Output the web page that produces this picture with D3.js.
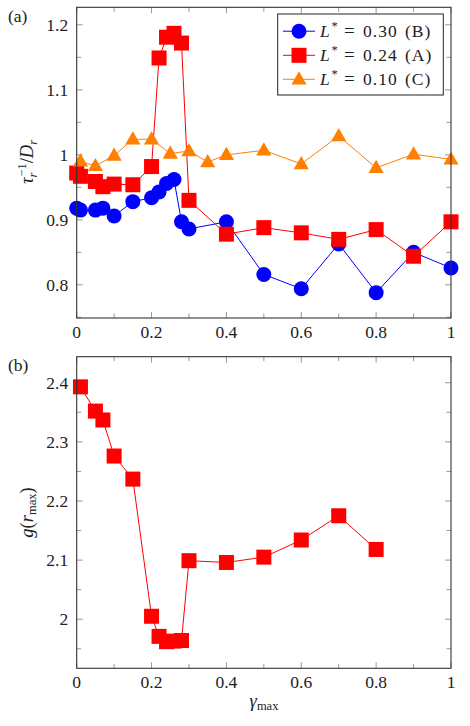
<!DOCTYPE html>
<html><head><meta charset="utf-8">
<script src="https://cdn.jsdelivr.net/npm/d3@7"></script>
<style>
body{margin:0;background:#fff}
svg{display:block}
</style>
</head><body>
<svg id="c" width="470" height="726"></svg>
<script>
// ---------- data ----------
const gammaB = [0,0.01,0.05,0.07,0.1,0.15,0.2,0.22,0.24,0.26,0.28,0.3,0.4,0.5,0.6,0.7,0.8,0.9,1.0];
const tauB   = [0.918,0.915,0.915,0.918,0.906,0.928,0.934,0.943,0.956,0.962,0.897,0.886,0.897,0.816,0.794,0.863,0.788,0.850,0.826];
const gammaA = [0,0.01,0.05,0.07,0.1,0.15,0.2,0.22,0.24,0.26,0.28,0.3,0.4,0.5,0.6,0.7,0.8,0.9,1.0];
const tauA   = [0.972,0.967,0.959,0.951,0.955,0.954,0.982,1.149,1.181,1.187,1.172,0.930,0.878,0.888,0.880,0.870,0.885,0.844,0.897];
const gammaC = [0.01,0.05,0.1,0.15,0.2,0.25,0.3,0.35,0.4,0.5,0.6,0.7,0.8,0.9,1.0];
const tauC   = [0.990,0.983,0.999,1.024,1.024,1.002,1.006,0.989,1.000,1.007,0.986,1.029,0.980,1.001,0.993];
const gammaG = [0.01,0.05,0.07,0.1,0.15,0.2,0.22,0.24,0.26,0.28,0.3,0.4,0.5,0.6,0.7,0.8];
const gMax   = [2.393,2.352,2.337,2.276,2.237,2.005,1.971,1.962,1.963,1.964,2.099,2.096,2.105,2.134,2.175,2.118];

const xMajor = [0,0.2,0.4,0.6,0.8,1];
const xMinor = [0.1,0.3,0.5,0.7,0.9];
const xLabels = ["0","0.2","0.4","0.6","0.8","1"];
const yMajorA = [0.8,0.9,1.0,1.1,1.2];
const yMinorA = [0.75,0.85,0.95,1.05,1.15];
const yLabelsA = ["0.8","0.9","1","1.1","1.2"];
const yMajorB = [2.0,2.1,2.2,2.3,2.4];
const yMinorB = [1.95,2.05,2.15,2.25,2.35];
const yLabelsB = ["2","2.1","2.2","2.3","2.4"];

const legendItems = [
  {val:"0.30", tag:"B", color:"#0000ff", shape:"circle"},
  {val:"0.24", tag:"A", color:"#ff0000", shape:"square"},
  {val:"0.10", tag:"C", color:"#ff8000", shape:"triangle"}
];

// ---------- layout ----------
const FONT = "Liberation Serif";
const FS = 17.5, FSS = 12.5;
const svg = d3.select("#c");
const L = 76.7, R = 451;
const x = d3.scaleLinear().domain([0,1]).range([L,R]);
const yTop = d3.scaleLinear().domain([0.749,1.227]).range([318,7.3]);
const yBot = d3.scaleLinear().domain([1.917,2.444]).range([668.3,356.7]);

function txt(g){ return g.append("text").attr("font-family",FONT).attr("fill","#222"); }

function marker(g, shape, color, cx, cy){
  if(shape==="circle"){
    g.append("circle").attr("cx",cx).attr("cy",cy).attr("r",7.5).attr("fill",color);
  } else if(shape==="square"){
    g.append("rect").attr("x",cx-7.5).attr("y",cy-7.5).attr("width",15).attr("height",15).attr("fill",color);
  } else {
    const s=8;
    g.append("path").attr("d",`M${cx},${cy-s} L${cx+s*0.95},${cy+s*0.65} L${cx-s*0.95},${cy+s*0.65}Z`).attr("fill",color);
  }
}

function series(yScale, xs, ys, color, shape){
  const g = svg.append("g");
  const pts = xs.map((d,i)=>[x(d), yScale(ys[i])]);
  g.append("path").attr("d", d3.line()(pts)).attr("fill","none").attr("stroke",color).attr("stroke-width",1);
  pts.forEach(p=>marker(g, shape, color, p[0], p[1]));
}

function frame(yScale, yMajor, yMinor, yLabels){
  const [yb, yt] = yScale.range();
  const g = svg.append("g");
  const tc = "#999";
  xMajor.concat(xMinor).forEach((v,i)=>{
    const len = i < xMajor.length ? 6 : 4.5;
    g.append("line").attr("x1",x(v)).attr("x2",x(v)).attr("y1",yb).attr("y2",yb-len).attr("stroke",tc);
    g.append("line").attr("x1",x(v)).attr("x2",x(v)).attr("y1",yt).attr("y2",yt+len).attr("stroke",tc);
  });
  yMajor.concat(yMinor).forEach((v,i)=>{
    const len = i < yMajor.length ? 6 : 4.5;
    g.append("line").attr("x1",L).attr("x2",L+len).attr("y1",yScale(v)).attr("y2",yScale(v)).attr("stroke",tc);
    g.append("line").attr("x1",R).attr("x2",R-len).attr("y1",yScale(v)).attr("y2",yScale(v)).attr("stroke",tc);
  });
  xMajor.forEach((v,i)=>{
    txt(g).attr("x",x(v)).attr("y",yb+20).attr("text-anchor","middle").attr("font-size",FS).text(xLabels[i]);
  });
  yMajor.forEach((v,i)=>{
    txt(g).attr("x",L-8.5).attr("y",yScale(v)+6).attr("text-anchor","end").attr("font-size",FS).text(yLabels[i]);
  });
  return g;
}

function border(yScale){
  const [yb, yt] = yScale.range();
  svg.append("rect").attr("x",L).attr("y",yt).attr("width",R-L).attr("height",yb-yt)
    .attr("fill","none").attr("stroke","#333").attr("stroke-width",1.1);
}

// ----- panel (a) -----
frame(yTop, yMajorA, yMinorA, yLabelsA);
series(yTop, gammaB, tauB, "#0000ff", "circle");
series(yTop, gammaA, tauA, "#ff0000", "square");
series(yTop, gammaC, tauC, "#ff8000", "triangle");
border(yTop);

// legend
const lg = svg.append("g");
lg.append("rect").attr("x",277.7).attr("y",14).attr("width",165.6).attr("height",81)
  .attr("fill","#fff").attr("stroke","#222").attr("stroke-width",1);
legendItems.forEach((d,i)=>{
  const cy = [31.2,55.3,79.3][i];
  const by = cy + 6;
  lg.append("line").attr("x1",283).attr("x2",315).attr("y1",cy).attr("y2",cy).attr("stroke",d.color).attr("stroke-width",1);
  marker(lg, d.shape, d.color, 299, cy);
  const t = txt(lg).attr("font-size",FS);
  t.append("tspan").attr("x",320).attr("y",by).attr("font-style","italic").text("L");
  t.append("tspan").attr("x",331.5).attr("y",by-7).attr("font-size",FSS).text("*");
  t.append("tspan").attr("x",344).attr("y",by).attr("font-size",19).text("=");
  t.append("tspan").attr("x",363).attr("y",by).attr("letter-spacing",1).text(d.val);
  t.append("tspan").attr("x",405).attr("y",by).attr("letter-spacing",1).text("(" + d.tag + ")");
});

// panel label & y label
txt(svg).attr("x",8).attr("y",22).attr("font-size",FS).text("(a)");
(function(){
  const t = txt(svg).attr("transform","translate(33,162) rotate(-90)").attr("text-anchor","middle").attr("font-size",FS+1);
  t.append("tspan").attr("font-style","italic").text("τ");
  t.append("tspan").attr("font-style","italic").attr("font-size",FSS).attr("dy",4).text("r");
  t.append("tspan").attr("font-size",FSS).attr("dx",-4).attr("dy",-11).text("−1");
  t.append("tspan").attr("dy",7).text("/");
  t.append("tspan").attr("font-style","italic").text("D");
  t.append("tspan").attr("font-style","italic").attr("font-size",FSS).attr("dy",4).text("r");
})();

// ----- panel (b) -----
frame(yBot, yMajorB, yMinorB, yLabelsB);
series(yBot, gammaG, gMax, "#ff0000", "square");
border(yBot);

txt(svg).attr("x",8).attr("y",371).attr("font-size",FS).text("(b)");
(function(){
  const t = txt(svg).attr("transform","translate(33,512.5) rotate(-90)").attr("text-anchor","middle").attr("font-size",FS+1);
  t.append("tspan").attr("font-style","italic").text("g");
  t.append("tspan").text("(");
  t.append("tspan").attr("font-style","italic").text("r");
  t.append("tspan").attr("font-size",FSS).attr("dy",3).text("max");
  t.append("tspan").attr("dy",-3).text(")");
})();
(function(){
  const t = txt(svg).attr("x",264).attr("y",707).attr("text-anchor","middle").attr("font-size",FS+1);
  t.append("tspan").attr("font-style","italic").text("γ");
  t.append("tspan").attr("font-size",FSS).attr("dy",3).text("max");
})();
</script>
</body></html>
